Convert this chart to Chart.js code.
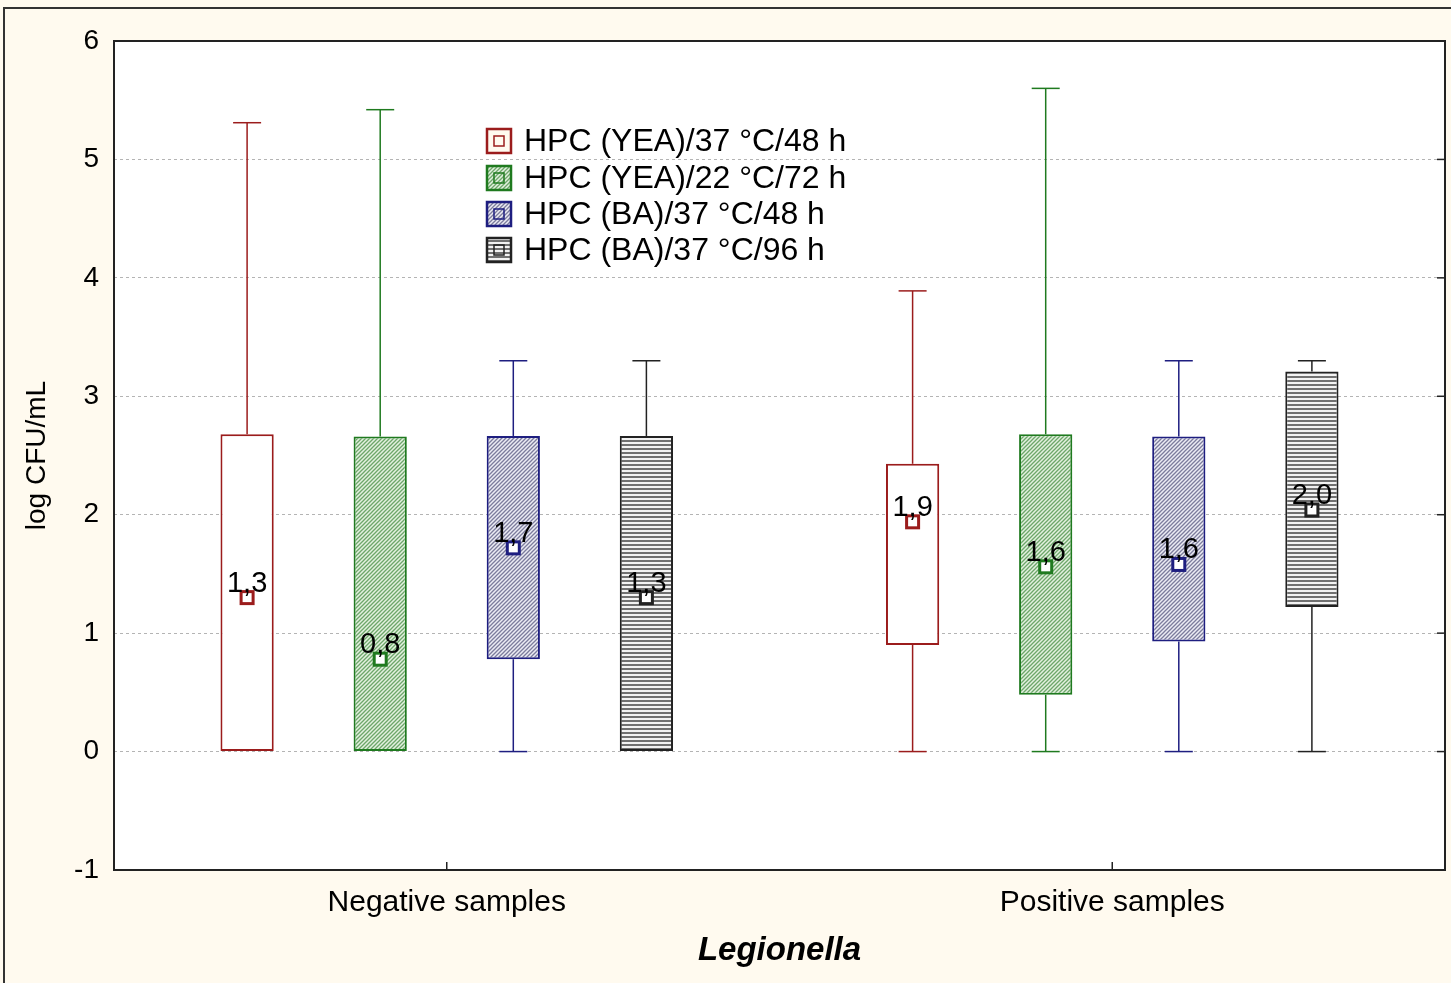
<html lang="en">
<head>
  <meta charset="utf-8">
  <script src="https://cdn.jsdelivr.net/npm/chart.js"></script>
  <style>
    body { margin: 0; background: #fffaef; }
    canvas { display: block; }
  </style>
</head>
<body>
  <canvas id="boxChart" width="1451" height="983"></canvas>

  <script>
    // categories and series
    const categories = ['Negative samples', 'Positive samples'];
    const seriesNames = ['HPC (YEA)/37 °C/48 h', 'HPC (YEA)/22 °C/72 h', 'HPC (BA)/37 °C/48 h', 'HPC (BA)/37 °C/96 h'];

    // values per series, one entry per category (log CFU/mL)
    const whiskerMin = [[0, 0], [0, 0], [0, 0], [0, 0]];
    const boxQ1 = [[0, 0.90], [0, 0.48], [0.78, 0.93], [0, 1.22]];
    const boxQ3 = [[2.68, 2.43], [2.66, 2.68], [2.665, 2.66], [2.665, 3.21]];
    const whiskerMax = [[5.31, 3.89], [5.42, 5.60], [3.30, 3.30], [3.30, 3.30]];
    const medians = [[1.3, 1.94], [0.78, 1.56], [1.72, 1.58], [1.3, 2.04]];

    const yTicks = [-1, 0, 1, 2, 3, 4, 5, 6];

    const lineColors = ['#9b1c1c', '#1f7a1f', '#1e1e80', '#222222'];
    const FONT = '"Liberation Sans", Arial, sans-serif';

    function makePattern(kind) {
      const c = document.createElement('canvas');
      const x = c.getContext('2d');
      if (kind === 'none') {
        c.width = 4; c.height = 4;
        x.fillStyle = '#ffffff';
        x.fillRect(0, 0, 4, 4);
      } else if (kind === 'lines') {
        c.width = 4; c.height = 4;
        x.fillStyle = '#f2f2f2';
        x.fillRect(0, 0, 4, 4);
        x.fillStyle = '#707070';
        x.fillRect(0, 0, 4, 2);
      } else {
        const bg = kind === 'green' ? '#e3f1df' : '#ececf4';
        const fg = kind === 'green' ? '#6da66a' : '#7c7c9c';
        c.width = 4; c.height = 4;
        x.fillStyle = bg;
        x.fillRect(0, 0, 4, 4);
        x.strokeStyle = fg;
        x.lineWidth = 1.3;
        x.beginPath();
        x.moveTo(-1, 5); x.lineTo(5, -1);
        x.moveTo(-3, 3); x.lineTo(3, -3);
        x.moveTo(1, 7); x.lineTo(7, 1);
        x.stroke();
      }
      return x.createPattern(c, 'repeat');
    }

    const fills = [makePattern('none'), makePattern('green'), makePattern('blue'), makePattern('lines')];

    const fmt = v => v.toFixed(1).replace('.', ',');

    const boxExtras = {
      id: 'boxExtras',
      beforeDraw(chart) {
        const {ctx, chartArea: a} = chart;
        ctx.save();
        ctx.fillStyle = '#fffaef';
        ctx.fillRect(0, 0, chart.width, chart.height);
        ctx.fillStyle = '#ffffff';
        ctx.fillRect(a.left, a.top, a.right - a.left, a.bottom - a.top);
        // outer frame (left and top only visible)
        ctx.strokeStyle = '#333';
        ctx.lineWidth = 2;
        ctx.beginPath();
        ctx.moveTo(4, chart.height);
        ctx.lineTo(4, 8);
        ctx.lineTo(chart.width, 8);
        ctx.stroke();
        ctx.restore();
      },
      beforeDatasetsDraw(chart) {
        const {ctx} = chart;
        const y = chart.scales.y;
        ctx.save();
        ctx.lineWidth = 1.5;
        seriesNames.forEach((name, i) => {
          const meta = chart.getDatasetMeta(i);
          meta.data.forEach((bar, j) => {
            ctx.strokeStyle = lineColors[i];
            const x = bar.x;
            const pts = [
              [whiskerMin[i][j], boxQ1[i][j]],
              [boxQ3[i][j], whiskerMax[i][j]]
            ];
            pts.forEach(([lo, hi]) => {
              if (hi <= lo) return;
              ctx.beginPath();
              ctx.moveTo(x, y.getPixelForValue(lo));
              ctx.lineTo(x, y.getPixelForValue(hi));
              ctx.stroke();
              const cap = lo === whiskerMin[i][j] ? lo : hi;
              const py = y.getPixelForValue(cap);
              ctx.beginPath();
              ctx.moveTo(x - 14, py);
              ctx.lineTo(x + 14, py);
              ctx.stroke();
            });
          });
        });
        ctx.restore();
      },
      afterDatasetsDraw(chart) {
        const {ctx, chartArea: a} = chart;
        const y = chart.scales.y;
        const xs = chart.scales.x;
        ctx.save();
        seriesNames.forEach((name, i) => {
          const meta = chart.getDatasetMeta(i);
          meta.data.forEach((bar, j) => {
            const x = bar.x;
            const py = y.getPixelForValue(medians[i][j]);
            ctx.fillStyle = '#ffffff';
            ctx.fillRect(x - 6, py - 6, 12, 12);
            ctx.strokeStyle = lineColors[i];
            ctx.lineWidth = 3;
            ctx.strokeRect(x - 6, py - 6, 12, 12);
            ctx.fillStyle = '#000';
            ctx.font = '29px ' + FONT;
            ctx.textAlign = 'center';
            ctx.textBaseline = 'alphabetic';
            ctx.fillText(fmt(medians[i][j]), x, py - 6);
          });
        });
        // plot frame
        ctx.strokeStyle = '#222';
        ctx.lineWidth = 2;
        ctx.strokeRect(a.left, a.top, a.right - a.left, a.bottom - a.top);
        // small tick marks
        ctx.lineWidth = 1.5;
        categories.forEach((c, k) => {
          const px = xs.getPixelForTick(k);
          ctx.beginPath();
          ctx.moveTo(px, a.bottom);
          ctx.lineTo(px, a.bottom - 8);
          ctx.stroke();
        });
        yTicks.forEach(v => {
          const py = y.getPixelForValue(v);
          ctx.beginPath();
          ctx.moveTo(a.right, py);
          ctx.lineTo(a.right - 8, py);
          ctx.stroke();
        });
        ctx.restore();
      },
      afterDraw(chart) {
        const {ctx} = chart;
        ctx.save();
        const left = 487, rowY = [141, 178, 214, 250];
        seriesNames.forEach((name, i) => {
          const cy = rowY[i];
          ctx.fillStyle = i === 0 ? '#fffaef' : fills[i];
          ctx.fillRect(left, cy - 12, 24, 24);
          ctx.strokeStyle = lineColors[i];
          ctx.lineWidth = 2.5;
          ctx.strokeRect(left, cy - 12, 24, 24);
          ctx.lineWidth = 1.5;
          ctx.strokeRect(left + 7, cy - 5, 10, 10);
          ctx.fillStyle = '#000';
          ctx.font = '32px ' + FONT;
          ctx.textAlign = 'left';
          ctx.textBaseline = 'middle';
          ctx.fillText(name, 524, cy + 1);
        });
        ctx.restore();
      }
    };

    new Chart(document.getElementById('boxChart'), {
      type: 'bar',
      data: {
        labels: categories,
        datasets: seriesNames.map((name, i) => ({
          label: name,
          data: boxQ1[i].map((q1, j) => [q1, boxQ3[i][j]]),
          backgroundColor: fills[i],
          borderColor: lineColors[i],
          borderWidth: 2,
          borderSkipped: false,
          categoryPercentage: 0.8,
          barPercentage: 0.4
        }))
      },
      options: {
        responsive: false,
        animation: false,
        devicePixelRatio: 1,
        layout: { padding: { top: 41, right: 6, left: 0, bottom: 0 } },
        plugins: {
          legend: { display: false },
          tooltip: { enabled: false }
        },
        scales: {
          x: {
            afterFit: s => { s.height = 113; },
            grid: { display: false, drawTicks: false },
            border: { display: false },
            ticks: { color: '#000', padding: 15, font: { family: FONT, size: 30 } },
            title: {
              display: true,
              text: 'Legionella',
              color: '#000',
              padding: { top: 0, bottom: 12 },
              font: { family: FONT, size: 33, weight: 'bold', style: 'italic' }
            }
          },
          y: {
            min: -1,
            max: 6,
            afterFit: s => { s.width = 114; },
            afterBuildTicks: s => { s.ticks = yTicks.map(v => ({ value: v })); },
            grid: { color: '#b4b4b4', lineWidth: 1, drawTicks: false },
            border: { display: false, dash: [3, 3] },
            ticks: { color: '#000', padding: 15, font: { family: FONT, size: 28 } },
            title: {
              display: true,
              text: 'log CFU/mL',
              color: '#000',
              padding: { top: 20, bottom: 0 },
              font: { family: FONT, size: 28 }
            }
          }
        }
      },
      plugins: [boxExtras]
    });
  </script>
</body>
</html>
